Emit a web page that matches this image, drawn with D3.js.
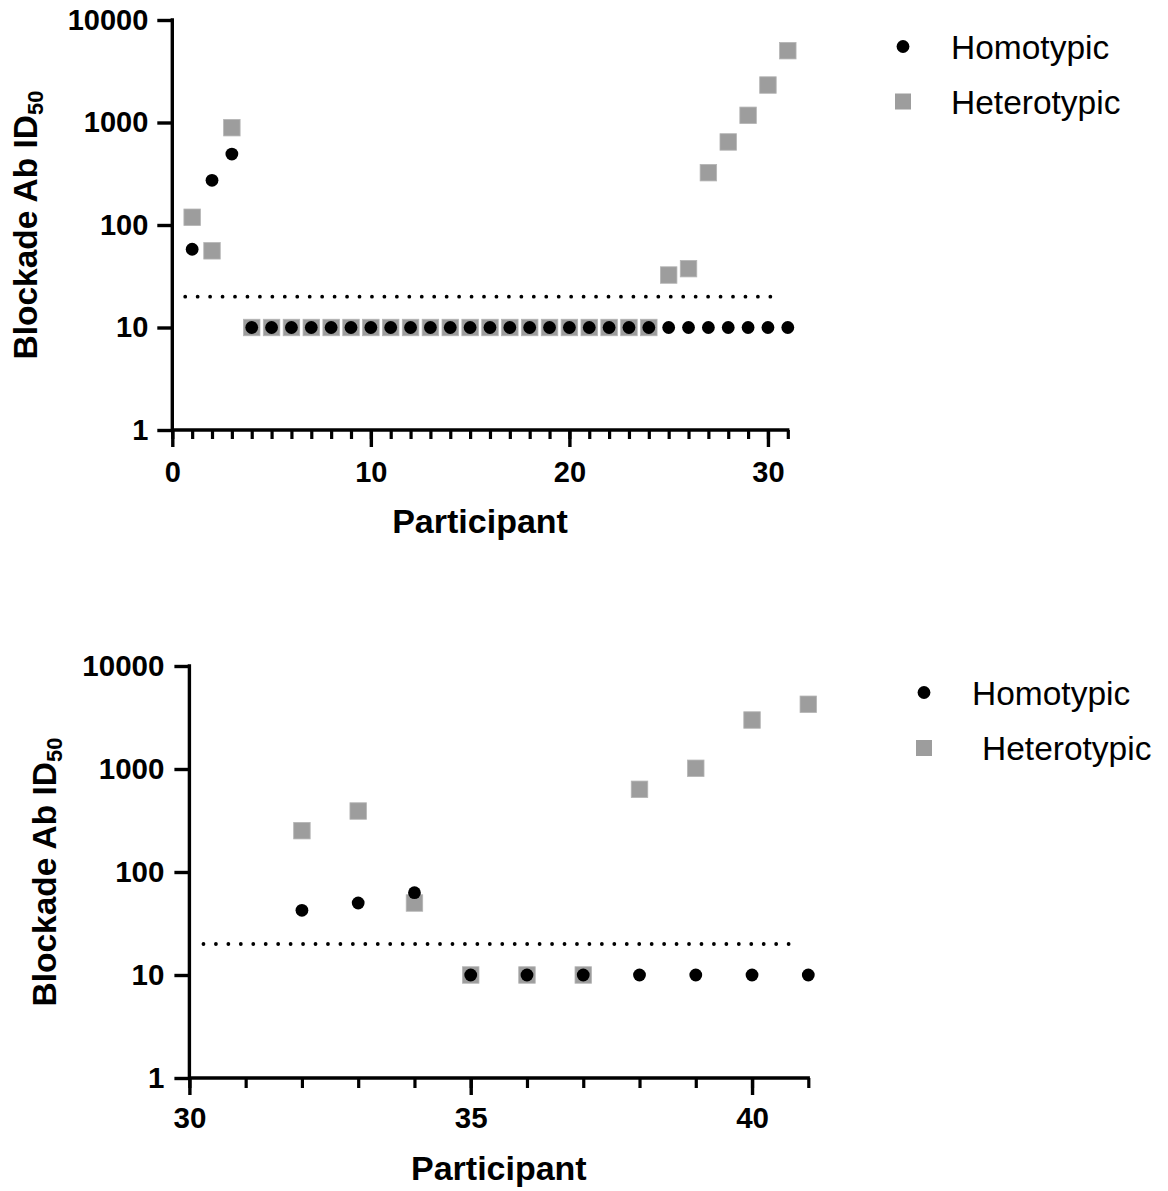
<!DOCTYPE html>
<html>
<head>
<meta charset="utf-8">
<script src="https://cdn.jsdelivr.net/npm/d3@7"></script>
<style>
  body { margin: 0; background: #fff; }
  svg { display: block; }
  text { font-family: "Liberation Sans", Arial, sans-serif; }
</style>
</head>
<body>
<div id="chart"></div>
<script>
// ---- data ----
const seriesNames = ["Homotypic", "Heterotypic"];
const yTicks = [1, 10, 100, 1000, 10000];
const cutoff = 20;

// top panel
const topParticipants = [1, 2, 3, 4, 5, 6, 7, 8, 9, 10, 11, 12, 13, 14, 15, 16,
  17, 18, 19, 20, 21, 22, 23, 24, 25, 26, 27, 28, 29, 30, 31];
const topHomotypic = [58, 273, 492, 10, 10, 10, 10, 10, 10, 10, 10, 10, 10, 10, 10, 10,
  10, 10, 10, 10, 10, 10, 10, 10, 10, 10, 10, 10, 10, 10, 10];
const topHeterotypic = [119, 56, 890, 10, 10, 10, 10, 10, 10, 10, 10, 10, 10, 10, 10, 10,
  10, 10, 10, 10, 10, 10, 10, 10, 32.5, 37.5, 324, 646, 1175, 2320, 5020];
const topXDomain = [0, 31];
const topXMajor = [0, 10, 20, 30];
const topCutoffRange = [0.65, 30.5];

// bottom panel
const bottomParticipants = [32, 33, 34, 35, 36, 37, 38, 39, 40, 41];
const bottomHomotypic = [42.5, 50, 63, 10, 10, 10, 10, 10, 10, 10];
const bottomHeterotypic = [252, 391, 50, 10, 10, 10, 635, 1016, 2990, 4250];
const bottomXDomain = [30, 41];
const bottomXMajor = [30, 35, 40];
const bottomCutoffRange = [30.25, 40.8];

const svg = d3.select("#chart").append("svg")
  .attr("width", 1168)
  .attr("height", 1191);

const panels = [
  {
    participants: topParticipants, homo: topHomotypic, hetero: topHeterotypic,
    xDomain: topXDomain, xMajor: topXMajor, cutoffRange: topCutoffRange,
    x0: 172.3, x1: 787.8, y0: 430, y1: 20,
    yPad: 9, xPad: 14, tickFont: 29, minorLen: 9,
    titleX: 37, xTitleY: 533,
    legendX: 903, legendTextX: [951, 951], legendY: [46.5, 101.5],
    legendLabels: seriesNames
  },
  {
    participants: bottomParticipants, homo: bottomHomotypic, hetero: bottomHeterotypic,
    xDomain: bottomXDomain, xMajor: bottomXMajor, cutoffRange: bottomCutoffRange,
    x0: 189.4, x1: 808.3, y0: 1078, y1: 666,
    yPad: 10, xPad: 12, tickFont: 29.5, minorLen: 10,
    titleX: 56, xTitleY: 1180,
    legendX: 924, legendTextX: [972, 982], legendY: [692.5, 748],
    legendLabels: seriesNames
  }
];

panels.forEach(p => {
  const x = d3.scaleLinear().domain(p.xDomain).range([p.x0, p.x1]);
  const y = d3.scaleLog().domain([1, 10000]).range([p.y0, p.y1]);

  const g = svg.append("g");

  // cutoff line (dotted)
  g.append("line")
    .attr("x1", x(p.cutoffRange[0]))
    .attr("x2", x(p.cutoffRange[1]))
    .attr("y1", y(cutoff))
    .attr("y2", y(cutoff))
    .attr("stroke", "#000")
    .attr("stroke-width", 3.8)
    .attr("stroke-linecap", "round")
    .attr("stroke-dasharray", "0 12.45");

  // minor x ticks
  g.append("g")
    .attr("transform", `translate(0,${p.y0})`)
    .call(d3.axisBottom(x)
      .tickValues(d3.range(p.xDomain[0], p.xDomain[1] + 1))
      .tickSize(p.minorLen).tickSizeOuter(0).tickFormat(""))
    .call(a => a.select(".domain").remove())
    .call(a => a.selectAll("line").attr("stroke-width", 3.2));

  // major x ticks + domain
  const xa = g.append("g")
    .attr("transform", `translate(0,${p.y0})`)
    .call(d3.axisBottom(x)
      .tickValues(p.xMajor)
      .tickSize(17).tickSizeOuter(0).tickPadding(p.xPad)
      .tickFormat(d3.format("d")));
  xa.select(".domain").attr("stroke-width", 3.4).attr("d", `M${p.x0},0H${p.x1 + 1.6}`);
  xa.selectAll("line").attr("stroke-width", 3.4);
  xa.selectAll("text")
    .attr("font-size", p.tickFont)
    .attr("font-weight", "bold")
    .attr("fill", "#000")
    .attr("font-family", "Liberation Sans, Arial, sans-serif");

  // y axis
  const ya = g.append("g")
    .attr("transform", `translate(${p.x0},0)`)
    .call(d3.axisLeft(y)
      .tickValues(yTicks)
      .tickSize(15).tickSizeOuter(0).tickPadding(p.yPad)
      .tickFormat(d3.format("d")));
  ya.select(".domain").attr("stroke-width", 3.4).attr("d", `M0,${p.y1 - 1.7}V${p.y0}`);
  ya.selectAll("line").attr("stroke-width", 3.4);
  ya.selectAll("text")
    .attr("font-size", p.tickFont)
    .attr("font-weight", "bold")
    .attr("fill", "#000")
    .attr("font-family", "Liberation Sans, Arial, sans-serif");

  // axis titles
  g.append("text")
    .attr("x", (p.x0 + p.x1) / 2)
    .attr("y", p.xTitleY)
    .attr("text-anchor", "middle")
    .attr("font-size", 34)
    .attr("font-weight", "bold")
    .text("Participant");

  const yt = g.append("text")
    .attr("transform", `translate(${p.titleX},${(p.y0 + p.y1) / 2}) rotate(-90)`)
    .attr("text-anchor", "middle")
    .attr("font-size", 33.5)
    .attr("font-weight", "bold");
  yt.append("tspan").text("Blockade Ab ID");
  yt.append("tspan").attr("font-size", 22).attr("dy", 6).text("50");

  // heterotypic squares (under)
  const sq = 16.5;
  g.selectAll(".sq")
    .data(p.participants.map((d, i) => ({ x: d, v: p.hetero[i] })))
    .join("rect")
    .attr("x", d => x(d.x) - sq / 2)
    .attr("y", d => y(d.v) - sq / 2)
    .attr("width", sq)
    .attr("height", sq)
    .attr("fill", "#9d9d9d")
    .attr("stroke", "#b5b5b5")
    .attr("stroke-width", 0.8);

  // homotypic circles (over)
  g.selectAll(".dot")
    .data(p.participants.map((d, i) => ({ x: d, v: p.homo[i] })))
    .join("circle")
    .attr("cx", d => x(d.x))
    .attr("cy", d => y(d.v))
    .attr("r", 6.4)
    .attr("fill", "#000");

  // legend
  g.append("circle")
    .attr("cx", p.legendX)
    .attr("cy", p.legendY[0])
    .attr("r", 6.4)
    .attr("fill", "#000");
  g.append("rect")
    .attr("x", p.legendX - 8)
    .attr("y", p.legendY[1] - 8)
    .attr("width", 16)
    .attr("height", 16)
    .attr("fill", "#9d9d9d");
  p.legendLabels.forEach((name, i) => {
    g.append("text")
      .attr("x", p.legendTextX[i])
      .attr("y", p.legendY[i])
      .attr("dy", "0.36em")
      .attr("font-size", 33.5)
      .attr("fill", "#000")
      .text(name);
  });
});
</script>
</body>
</html>
